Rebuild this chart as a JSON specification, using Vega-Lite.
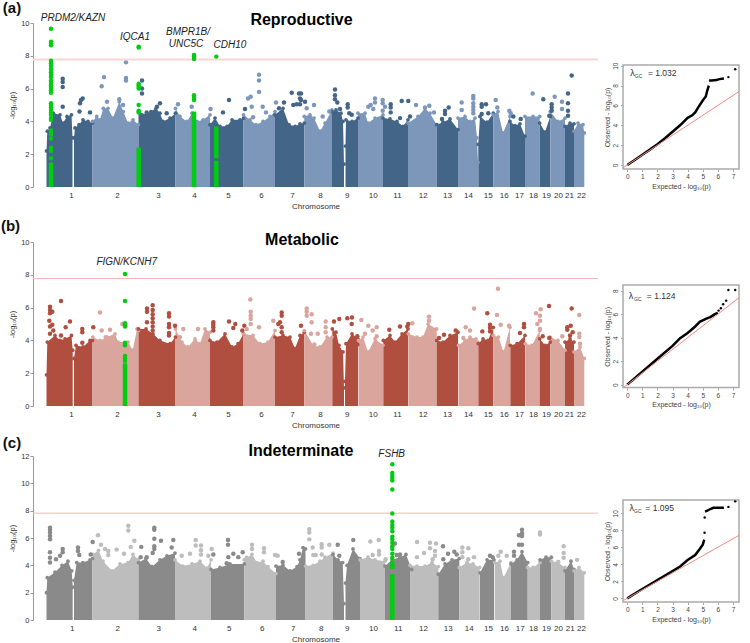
{
"$schema":"https://vega.github.io/schema/vega-lite/v6.json",
"padding":{"left":0,"top":0,"right":0,"bottom":0},
"config":{"font":"Liberation Sans","view":{"stroke":null},"axis":{"grid":false}},
"datasets":{
"a_sky":[
{"seg":"1","pos":46.5,"val":2.2},{"seg":"1","pos":47.3,"val":3.4},{"seg":"1","pos":50,"val":3.6},{"seg":"1","pos":53.3,"val":4.5},{"seg":"1","pos":60,"val":4.4},{"seg":"1","pos":63,"val":3.9},{"seg":"1","pos":67,"val":4.3},{"seg":"1","pos":71.5,"val":4.4},{"seg":"1","pos":72.5,"val":3.0},
{"seg":"1q","pos":74,"val":3.0},{"seg":"1q","pos":75,"val":3.6},{"seg":"1q","pos":79,"val":3.8},{"seg":"1q","pos":83,"val":4.1},{"seg":"1q","pos":88,"val":4},{"seg":"1q","pos":92.5,"val":3.9},
{"seg":"2","pos":92.5,"val":4},{"seg":"2","pos":96.7,"val":4.3},{"seg":"2","pos":100,"val":4.1},{"seg":"2","pos":103.3,"val":4.8},{"seg":"2","pos":108,"val":4.8},{"seg":"2","pos":113,"val":4.2},{"seg":"2","pos":119.3,"val":5.2},{"seg":"2","pos":123.3,"val":4.6},{"seg":"2","pos":128,"val":3.9},{"seg":"2","pos":133,"val":4.1},{"seg":"2","pos":138.5,"val":3.8},
{"seg":"3","pos":138.5,"val":4.6},{"seg":"3","pos":146,"val":4.4},{"seg":"3","pos":151,"val":4.6},{"seg":"3","pos":156,"val":4.8},{"seg":"3","pos":160,"val":4.5},{"seg":"3","pos":163,"val":4},{"seg":"3","pos":170,"val":4.2},{"seg":"3","pos":175.5,"val":4.5},
{"seg":"4","pos":175.5,"val":4.8},{"seg":"4","pos":180,"val":4.3},{"seg":"4","pos":187,"val":4},{"seg":"4","pos":192,"val":4.5},{"seg":"4","pos":197,"val":4},{"seg":"4","pos":203,"val":4.1},{"seg":"4","pos":210,"val":4.4},
{"seg":"5","pos":210,"val":3.8},{"seg":"5","pos":215,"val":4.2},{"seg":"5","pos":220,"val":3.7},{"seg":"5","pos":227,"val":3.7},{"seg":"5","pos":232,"val":4.1},{"seg":"5","pos":240,"val":4.1},{"seg":"5","pos":243.5,"val":4.2},
{"seg":"6","pos":243.5,"val":4.4},{"seg":"6","pos":250,"val":4.1},{"seg":"6","pos":256,"val":3.8},{"seg":"6","pos":263,"val":4},{"seg":"6","pos":270,"val":4.3},{"seg":"6","pos":275,"val":4.6},
{"seg":"7","pos":275,"val":4.4},{"seg":"7","pos":283,"val":4.8},{"seg":"7","pos":289,"val":3.8},{"seg":"7","pos":295,"val":3.7},{"seg":"7","pos":300,"val":3.85},{"seg":"7","pos":304.3,"val":3.9},
{"seg":"8","pos":304.3,"val":4.3},{"seg":"8","pos":310,"val":4.4},{"seg":"8","pos":314,"val":4.2},{"seg":"8","pos":320,"val":3.4},{"seg":"8","pos":325,"val":3.9},{"seg":"8","pos":332,"val":4.7},
{"seg":"9","pos":332,"val":4.6},{"seg":"9","pos":336,"val":4.7},{"seg":"9","pos":341,"val":4.5},{"seg":"9","pos":343,"val":4},{"seg":"9","pos":344,"val":1.4},
{"seg":"9q","pos":345.5,"val":2.5},{"seg":"9q","pos":346,"val":4.1},{"seg":"9q","pos":352,"val":4},{"seg":"9q","pos":358,"val":4.2},
{"seg":"10","pos":358,"val":4.5},{"seg":"10","pos":365,"val":4.5},{"seg":"10","pos":368,"val":3.9},{"seg":"10","pos":375,"val":4.2},{"seg":"10","pos":383,"val":4.4},
{"seg":"11","pos":383,"val":4.2},{"seg":"11","pos":390,"val":4.15},{"seg":"11","pos":397,"val":4},{"seg":"11","pos":403,"val":3.7},{"seg":"11","pos":408,"val":4.1},
{"seg":"12","pos":408,"val":3.9},{"seg":"12","pos":418,"val":4.3},{"seg":"12","pos":425,"val":4.8},{"seg":"12","pos":430,"val":4.5},{"seg":"12","pos":436.7,"val":3.8},
{"seg":"13","pos":436.7,"val":3.8},{"seg":"13","pos":443,"val":3.95},{"seg":"13","pos":450,"val":4.15},{"seg":"13","pos":458,"val":3.5},
{"seg":"14","pos":458,"val":4.2},{"seg":"14","pos":465,"val":4.3},{"seg":"14","pos":470,"val":4},{"seg":"14","pos":475,"val":4.2},{"seg":"14","pos":477,"val":3},{"seg":"14","pos":478,"val":1.5},
{"seg":"15","pos":478.3,"val":2.6},{"seg":"15","pos":480,"val":4.3},{"seg":"15","pos":487,"val":3.95},{"seg":"15","pos":493.3,"val":4.5},
{"seg":"16","pos":493.3,"val":4.4},{"seg":"16","pos":498,"val":4.6},{"seg":"16","pos":503,"val":3.3},{"seg":"16","pos":510,"val":4.3},
{"seg":"17","pos":510,"val":4},{"seg":"17","pos":515,"val":3.75},{"seg":"17","pos":520,"val":3.85},{"seg":"17","pos":525,"val":3.1},
{"seg":"18","pos":525,"val":4.3},{"seg":"18","pos":533,"val":4.3},{"seg":"18","pos":539.7,"val":4.3},
{"seg":"19","pos":539.7,"val":3.9},{"seg":"19","pos":545,"val":3.35},{"seg":"19","pos":550.3,"val":4.3},
{"seg":"20","pos":550.3,"val":4.6},{"seg":"20","pos":558,"val":4},{"seg":"20","pos":565,"val":4.2},
{"seg":"21","pos":565,"val":3.7},{"seg":"21","pos":570,"val":3.9},{"seg":"21","pos":574,"val":3.85},
{"seg":"22","pos":574,"val":3.4},{"seg":"22","pos":578,"val":3.9},{"seg":"22","pos":583,"val":3.8},{"seg":"22","pos":584.3,"val":3.3}
],
"a_dots":[
{"seg":"1","pos":62.7,"val":6.6},{"seg":"1","pos":62.7,"val":6.4},{"seg":"1","pos":62.7,"val":6.1},{"seg":"1","pos":62.7,"val":4.9},
{"seg":"1q","pos":80,"val":5.1},{"seg":"1q","pos":81,"val":5.3},{"seg":"1q","pos":82.7,"val":5.4},{"seg":"1q","pos":79.5,"val":4.6},{"seg":"1q","pos":90,"val":4.55},
{"seg":"2","pos":101.7,"val":6.15},{"seg":"2","pos":104,"val":6.7},{"seg":"2","pos":107,"val":5.2},{"seg":"2","pos":126,"val":7.6},{"seg":"2","pos":126,"val":6.65},{"seg":"2","pos":126,"val":6.5},{"seg":"2","pos":119.3,"val":5.35},{"seg":"2","pos":123,"val":5},
{"seg":"3","pos":142,"val":6.5},{"seg":"3","pos":142,"val":6},{"seg":"3","pos":142,"val":5.7},{"seg":"3","pos":160,"val":5.1},{"seg":"3","pos":157,"val":4.9},{"seg":"3","pos":166.7,"val":4.5},{"seg":"3","pos":146.7,"val":4.55},{"seg":"3","pos":151.7,"val":4.55},
{"seg":"4","pos":178,"val":5.05},{"seg":"4","pos":191.7,"val":4.9},{"seg":"4","pos":210.5,"val":4.75},
{"seg":"5","pos":223,"val":4.55},{"seg":"5","pos":229,"val":5.3},{"seg":"5","pos":245,"val":4.75},
{"seg":"6","pos":248,"val":5.4},{"seg":"6","pos":250.7,"val":5.5},{"seg":"6","pos":251.7,"val":4.9},{"seg":"6","pos":253,"val":4.25},{"seg":"6","pos":259,"val":6.85},{"seg":"6","pos":259,"val":6.5},{"seg":"6","pos":259,"val":5.8},{"seg":"6","pos":262.7,"val":4.9},{"seg":"6","pos":266,"val":4.55},{"seg":"6","pos":276,"val":5.15},
{"seg":"7","pos":279,"val":4.8},{"seg":"7","pos":284,"val":5.15},{"seg":"7","pos":291.7,"val":5.75},{"seg":"7","pos":293.3,"val":5},{"seg":"7","pos":296.7,"val":5.05},{"seg":"7","pos":299,"val":5.7},{"seg":"7","pos":300,"val":5.4},{"seg":"7","pos":300,"val":5.05},{"seg":"7","pos":301,"val":5.7},{"seg":"7","pos":301,"val":5.3},{"seg":"7","pos":305,"val":5.2},
{"seg":"8","pos":306.7,"val":4.8},{"seg":"8","pos":314,"val":5},{"seg":"8","pos":322.7,"val":4.3},{"seg":"8","pos":329.3,"val":4.6},
{"seg":"9","pos":335,"val":5.95},{"seg":"9","pos":335,"val":5.6},{"seg":"9","pos":335,"val":5.35},{"seg":"9","pos":337.3,"val":5.15},{"seg":"9","pos":340,"val":4.75},
{"seg":"9q","pos":347.7,"val":5.05},{"seg":"9q","pos":347.7,"val":4.85},{"seg":"9q","pos":349.3,"val":4.5},{"seg":"9q","pos":351.7,"val":4.4},
{"seg":"10","pos":368.3,"val":4.9},{"seg":"10","pos":370.7,"val":5},{"seg":"10","pos":375,"val":5.4},{"seg":"10","pos":375,"val":5.15},{"seg":"10","pos":373.3,"val":4.75},{"seg":"10","pos":382.7,"val":5.3},{"seg":"10","pos":382.7,"val":5.1},{"seg":"10","pos":385,"val":4.9},{"seg":"10","pos":382.7,"val":4.65},
{"seg":"11","pos":390.7,"val":5.05},{"seg":"11","pos":390.7,"val":4.85},{"seg":"11","pos":390.7,"val":4.55},{"seg":"11","pos":401.7,"val":5.25},{"seg":"11","pos":408.3,"val":5.25},{"seg":"11","pos":410,"val":4.3},{"seg":"11","pos":400,"val":4.2},
{"seg":"12","pos":416,"val":5},{"seg":"12","pos":429.3,"val":4.95},{"seg":"12","pos":434,"val":4.55},{"seg":"12","pos":425,"val":4.85},
{"seg":"13","pos":442,"val":4.15},{"seg":"13","pos":445,"val":4.65},{"seg":"13","pos":445,"val":4.45},{"seg":"13","pos":448.7,"val":4.85},
{"seg":"14","pos":461.7,"val":5.15},{"seg":"14","pos":461.7,"val":4.7},{"seg":"14","pos":473.3,"val":5.55},{"seg":"14","pos":473.3,"val":5.4},{"seg":"14","pos":473.3,"val":5.1},{"seg":"14","pos":473.3,"val":4.9},{"seg":"14","pos":473.3,"val":4.7},{"seg":"14","pos":473.3,"val":4.5},
{"seg":"15","pos":481.7,"val":5.05},{"seg":"15","pos":481.7,"val":4.9},{"seg":"15","pos":486,"val":5.05},{"seg":"15","pos":488.3,"val":4.5},{"seg":"15","pos":481.7,"val":4.45},
{"seg":"16","pos":495.7,"val":5.3},{"seg":"16","pos":497.3,"val":4.85},{"seg":"16","pos":509.3,"val":4.65},{"seg":"16","pos":510.7,"val":4.5},
{"seg":"17","pos":513.3,"val":4.3},{"seg":"17","pos":520.7,"val":4.15},
{"seg":"18","pos":532.7,"val":5.7},
{"seg":"19","pos":543.3,"val":5.35},{"seg":"19","pos":551.7,"val":5.05},{"seg":"19","pos":551.7,"val":4.85},{"seg":"19","pos":551.7,"val":4.65},{"seg":"19","pos":549.3,"val":4.35},
{"seg":"20","pos":554.7,"val":5.5},{"seg":"20","pos":562,"val":5.2},{"seg":"20","pos":562,"val":4.75},
{"seg":"21","pos":571.7,"val":6.8},{"seg":"21","pos":568,"val":5.7},{"seg":"21","pos":568,"val":5.1},{"seg":"21","pos":568,"val":4.65},{"seg":"21","pos":568,"val":4.35}
],
"a_span":[{"pos":51,"val":0,"val_end":1.5},{"pos":138.7,"val":0,"val_end":2.4},{"pos":194,"val":0,"val_end":4.6},{"pos":216.3,"val":0,"val_end":1.6},{"pos":216.3,"val":1.75,"val_end":3.7}],
"a_green":[
{"pos":51,"val":9.65},{"pos":51,"val":8.85},{"pos":51,"val":8.75},{"pos":51,"val":8.65},{"pos":51,"val":7.7},{"pos":51,"val":7.55},{"pos":51,"val":7.4},{"pos":51,"val":7.2},{"pos":51,"val":7},{"pos":51,"val":6.85},{"pos":51,"val":6.7},{"pos":51,"val":6.5},{"pos":51,"val":6.35},{"pos":51,"val":6.2},{"pos":51,"val":6.05},{"pos":51,"val":5.9},{"pos":51,"val":5.75},{"pos":51,"val":5.1},{"pos":51,"val":5},{"pos":51,"val":4.85},{"pos":51,"val":4.7},{"pos":51,"val":4.55},{"pos":51,"val":4.4},{"pos":51,"val":4.2},{"pos":51,"val":4.1},{"pos":51,"val":3.45},{"pos":51,"val":3.35},{"pos":51,"val":3.2},{"pos":51,"val":2.95},{"pos":51,"val":2.4},{"pos":51,"val":2.2},{"pos":51,"val":1.75},
{"pos":138.7,"val":8.55},{"pos":138.7,"val":8.5},{"pos":138.7,"val":6.3},{"pos":138.7,"val":6.2},{"pos":138.7,"val":6.1},{"pos":138.7,"val":6},{"pos":138.7,"val":5},{"pos":138.7,"val":4.65},{"pos":138.7,"val":4.55},
{"pos":194,"val":8.05},{"pos":194,"val":7.95},{"pos":194,"val":7.8},{"pos":194,"val":5.6},{"pos":194,"val":5.45},{"pos":194,"val":5.3},
{"pos":216.3,"val":7.95}
],
"b_sky":[
{"seg":"1","pos":46.5,"val":1.9},{"seg":"1","pos":47.3,"val":3.9},{"seg":"1","pos":55,"val":4.3},{"seg":"1","pos":60,"val":4},{"seg":"1","pos":65,"val":4.1},{"seg":"1","pos":71.5,"val":4.3},{"seg":"1","pos":72.7,"val":3.4},
{"seg":"1q","pos":74,"val":2.9},{"seg":"1q","pos":76,"val":3.7},{"seg":"1q","pos":83,"val":3.6},{"seg":"1q","pos":90,"val":4},{"seg":"1q","pos":92.5,"val":4},
{"seg":"2","pos":92.8,"val":4.2},{"seg":"2","pos":100,"val":4},{"seg":"2","pos":107,"val":4.2},{"seg":"2","pos":115,"val":4.4},{"seg":"2","pos":118,"val":3.9},{"seg":"2","pos":128,"val":3.9},{"seg":"2","pos":132.7,"val":3.4},{"seg":"2","pos":137,"val":4.7},{"seg":"2","pos":138.5,"val":4.6},
{"seg":"3","pos":138.5,"val":4.7},{"seg":"3","pos":146,"val":4.7},{"seg":"3","pos":153,"val":4.4},{"seg":"3","pos":160,"val":4},{"seg":"3","pos":170,"val":3.8},{"seg":"3","pos":175.5,"val":4.2},
{"seg":"4","pos":175.5,"val":4.7},{"seg":"4","pos":182,"val":3.9},{"seg":"4","pos":188,"val":3.6},{"seg":"4","pos":195,"val":4.1},{"seg":"4","pos":200,"val":3.8},{"seg":"4","pos":205,"val":4.7},{"seg":"4","pos":210,"val":4.5},
{"seg":"5","pos":210,"val":4},{"seg":"5","pos":217,"val":3.9},{"seg":"5","pos":225,"val":4.4},{"seg":"5","pos":232,"val":3.6},{"seg":"5","pos":238,"val":3.8},{"seg":"5","pos":243.5,"val":4.4},
{"seg":"6","pos":243.5,"val":4.4},{"seg":"6","pos":253,"val":4.3},{"seg":"6","pos":260,"val":3.8},{"seg":"6","pos":268,"val":3.9},{"seg":"6","pos":275,"val":4.6},
{"seg":"7","pos":275,"val":4.2},{"seg":"7","pos":283,"val":4.3},{"seg":"7","pos":290,"val":4.2},{"seg":"7","pos":295,"val":3.5},{"seg":"7","pos":300,"val":4.3},{"seg":"7","pos":304.3,"val":4.5},
{"seg":"8","pos":304.3,"val":4.6},{"seg":"8","pos":313,"val":3.7},{"seg":"8","pos":320,"val":3.6},{"seg":"8","pos":327,"val":4.2},{"seg":"8","pos":332,"val":4.2},
{"seg":"9","pos":332.3,"val":4.7},{"seg":"9","pos":336,"val":4.5},{"seg":"9","pos":339,"val":3.7},{"seg":"9","pos":343,"val":3.3},{"seg":"9","pos":344,"val":1.1},
{"seg":"9q","pos":345,"val":1.5},{"seg":"9q","pos":346,"val":3.8},{"seg":"9q","pos":352,"val":4.4},{"seg":"9q","pos":358,"val":4.1},
{"seg":"10","pos":358.5,"val":4},{"seg":"10","pos":363,"val":4.2},{"seg":"10","pos":368,"val":3.3},{"seg":"10","pos":375,"val":4.1},{"seg":"10","pos":383,"val":3.7},
{"seg":"11","pos":383.3,"val":4},{"seg":"11","pos":390,"val":4.3},{"seg":"11","pos":395,"val":3.9},{"seg":"11","pos":402,"val":4.4},{"seg":"11","pos":408,"val":4.7},
{"seg":"12","pos":408.3,"val":4.4},{"seg":"12","pos":417,"val":4.2},{"seg":"12","pos":423,"val":4.2},{"seg":"12","pos":428,"val":5},{"seg":"12","pos":436.7,"val":4.7},
{"seg":"13","pos":436.7,"val":4},{"seg":"13","pos":443,"val":3.9},{"seg":"13","pos":450,"val":4.3},{"seg":"13","pos":458,"val":4.5},
{"seg":"14","pos":458.5,"val":3.7},{"seg":"14","pos":465,"val":4},{"seg":"14","pos":470,"val":4.2},{"seg":"14","pos":476,"val":4.1},{"seg":"14","pos":478,"val":3.9},
{"seg":"15","pos":478.3,"val":3.8},{"seg":"15","pos":483,"val":4.1},{"seg":"15","pos":488,"val":4},{"seg":"15","pos":493.3,"val":4.8},
{"seg":"16","pos":493.3,"val":4.3},{"seg":"16","pos":498.5,"val":4.2},{"seg":"16","pos":503.5,"val":3.3},{"seg":"16","pos":510,"val":4.8},
{"seg":"17","pos":510.3,"val":3.7},{"seg":"17","pos":517,"val":3.8},{"seg":"17","pos":525,"val":4.3},
{"seg":"18","pos":525.3,"val":3.8},{"seg":"18","pos":532,"val":3.7},{"seg":"18","pos":539.7,"val":4.6},
{"seg":"19","pos":539.7,"val":4.1},{"seg":"19","pos":545,"val":3.7},{"seg":"19","pos":550.3,"val":3.9},
{"seg":"20","pos":550.3,"val":4.2},{"seg":"20","pos":558,"val":4},{"seg":"20","pos":565,"val":3.4},
{"seg":"21","pos":565,"val":3.9},{"seg":"21","pos":570,"val":4.1},{"seg":"21","pos":574,"val":3.9},
{"seg":"22","pos":574,"val":3.3},{"seg":"22","pos":580,"val":3.6},{"seg":"22","pos":584.3,"val":2.9}
],
"b_dots":[
{"seg":"1","pos":50,"val":6.05},{"seg":"1","pos":50,"val":5.85},{"seg":"1","pos":50,"val":5.65},{"seg":"1","pos":52.3,"val":5.75},{"seg":"1","pos":49.3,"val":5.2},{"seg":"1","pos":52.3,"val":4.95},{"seg":"1","pos":50,"val":4.85},{"seg":"1","pos":53.3,"val":4.6},{"seg":"1","pos":50,"val":4.4},{"seg":"1","pos":61,"val":6.4},{"seg":"1","pos":65.7,"val":4.8},{"seg":"1","pos":70,"val":5.15},{"seg":"1","pos":61,"val":4.3},
{"seg":"1q","pos":82.3,"val":4.7},{"seg":"1q","pos":82.3,"val":4.5},{"seg":"1q","pos":82.3,"val":3.85},{"seg":"1q","pos":93.3,"val":4.8},
{"seg":"2","pos":100,"val":5.7},{"seg":"2","pos":101.7,"val":4.6},{"seg":"2","pos":110,"val":4.65},{"seg":"2","pos":122.3,"val":5},{"seg":"2","pos":105.7,"val":4.2},
{"seg":"3","pos":147,"val":5.95},{"seg":"3","pos":147,"val":5.75},{"seg":"3","pos":147,"val":5.1},{"seg":"3","pos":152.7,"val":6.15},{"seg":"3","pos":152.7,"val":5.85},{"seg":"3","pos":152.7,"val":5.6},{"seg":"3","pos":152.7,"val":5.35},{"seg":"3","pos":152.7,"val":5.1},{"seg":"3","pos":152.7,"val":4.85},{"seg":"3","pos":152.7,"val":4.6},{"seg":"3","pos":169,"val":5.65},{"seg":"3","pos":169,"val":5.45},{"seg":"3","pos":169,"val":5},{"seg":"3","pos":169,"val":4.8},{"seg":"3","pos":169,"val":4.45},{"seg":"3","pos":169,"val":4.3},{"seg":"3","pos":175,"val":4.9},
{"seg":"4","pos":183.3,"val":4.7},{"seg":"4","pos":198,"val":4.7},{"seg":"4","pos":180,"val":4.2},
{"seg":"5","pos":213.3,"val":5.1},{"seg":"5","pos":213.3,"val":4.95},{"seg":"5","pos":213.3,"val":4.8},{"seg":"5","pos":229,"val":5.15},{"seg":"5","pos":235.3,"val":5},{"seg":"5","pos":233.3,"val":4.75},{"seg":"5","pos":244.3,"val":4.9},{"seg":"5","pos":242.3,"val":4.6},{"seg":"5","pos":213.3,"val":4.6},
{"seg":"6","pos":250.3,"val":6.5},{"seg":"6","pos":250.7,"val":5.75},{"seg":"6","pos":250.7,"val":5.5},{"seg":"6","pos":250.7,"val":5.3},{"seg":"6","pos":250.7,"val":5},{"seg":"6","pos":246.7,"val":4.7},{"seg":"6","pos":259,"val":4.8},{"seg":"6","pos":273.3,"val":5.2},
{"seg":"7","pos":281.7,"val":5.7},{"seg":"7","pos":281.7,"val":5.5},{"seg":"7","pos":280,"val":5.1},{"seg":"7","pos":278.3,"val":5},{"seg":"7","pos":281.7,"val":4.8},{"seg":"7","pos":281.7,"val":4.5},{"seg":"7","pos":301,"val":4.9},
{"seg":"8","pos":306.7,"val":5.95},{"seg":"8","pos":306.7,"val":5.75},{"seg":"8","pos":306.7,"val":5.5},{"seg":"8","pos":311.7,"val":5.6},{"seg":"8","pos":311.7,"val":5.1},{"seg":"8","pos":311,"val":4.4},{"seg":"8","pos":317.7,"val":4.4},{"seg":"8","pos":314.3,"val":3.75},{"seg":"8","pos":325.7,"val":5.15},{"seg":"8","pos":325.7,"val":4.8},{"seg":"8","pos":325.7,"val":4.5},
{"seg":"9","pos":334,"val":5.15},{"seg":"9","pos":339.3,"val":5.3},
{"seg":"9q","pos":347.3,"val":5.35},{"seg":"9q","pos":352,"val":5.4},{"seg":"9q","pos":351.7,"val":5},{"seg":"9q","pos":357.3,"val":4.25},{"seg":"9q","pos":357.3,"val":3.75},
{"seg":"10","pos":361.3,"val":5.25},{"seg":"10","pos":368.3,"val":4.9},{"seg":"10","pos":376.7,"val":4.8},{"seg":"10","pos":372.7,"val":4.6},{"seg":"10","pos":365,"val":4.4},{"seg":"10","pos":376.7,"val":4.25},
{"seg":"11","pos":389.3,"val":4.65},{"seg":"11","pos":400,"val":4.85},{"seg":"11","pos":408.3,"val":5},{"seg":"11","pos":407.3,"val":4.85},
{"seg":"12","pos":412.3,"val":5.05},{"seg":"12","pos":429,"val":5.45},{"seg":"12","pos":429,"val":5.2},
{"seg":"13","pos":439,"val":4.15},{"seg":"13","pos":444,"val":4.35},{"seg":"13","pos":455.7,"val":4.6},
{"seg":"14","pos":474,"val":5.95},{"seg":"14","pos":465.7,"val":4.8},{"seg":"14","pos":470,"val":4.6},{"seg":"14","pos":463.3,"val":4.15},
{"seg":"15","pos":482.3,"val":4.55},{"seg":"15","pos":487.3,"val":5.65},{"seg":"15","pos":490,"val":4.95},{"seg":"15","pos":490,"val":4.75},{"seg":"15","pos":490,"val":4.55},
{"seg":"16","pos":498,"val":7.15},{"seg":"16","pos":497,"val":5.55},{"seg":"16","pos":500.7,"val":4.95},{"seg":"16","pos":509,"val":4.9},
{"seg":"17","pos":520,"val":4.45},{"seg":"17","pos":524,"val":5},{"seg":"17","pos":524,"val":4.8},
{"seg":"18","pos":540.7,"val":5.9},{"seg":"18","pos":536,"val":5.65},{"seg":"18","pos":540,"val":5.5},{"seg":"18","pos":540,"val":5.2},{"seg":"18","pos":537.3,"val":5},{"seg":"18","pos":540,"val":4.7},
{"seg":"19","pos":549,"val":6.1},{"seg":"19","pos":542.7,"val":4.25},{"seg":"19","pos":549.3,"val":4.15},
{"seg":"20","pos":562.3,"val":4.25},
{"seg":"21","pos":571.7,"val":5.95},{"seg":"21","pos":567.3,"val":4.8},{"seg":"21","pos":570.7,"val":4.9},{"seg":"21","pos":567.3,"val":4.65},{"seg":"21","pos":572.7,"val":4.5},{"seg":"21","pos":570,"val":4.3},
{"seg":"22","pos":579.3,"val":5.55},{"seg":"22","pos":579.3,"val":4.4},{"seg":"22","pos":579.3,"val":4.2},{"seg":"22","pos":580,"val":3.8}
],
"b_span":[{"pos":125,"val":0,"val_end":2.6}],
"b_green":[{"pos":125,"val":8.05},{"pos":125,"val":6.4},{"pos":125,"val":5.05},{"pos":125,"val":4.95},{"pos":125,"val":4.85},{"pos":125,"val":3.85},{"pos":125,"val":3.7},{"pos":125,"val":3.05},{"pos":125,"val":2.9},{"pos":125,"val":2.75}],
"c_sky":[
{"seg":"1","pos":46.5,"val":2},{"seg":"1","pos":47.3,"val":3.1},{"seg":"1","pos":55,"val":3.5},{"seg":"1","pos":62,"val":4},{"seg":"1","pos":68,"val":4.3},{"seg":"1","pos":71.7,"val":3.6},{"seg":"1","pos":72.7,"val":2.4},
{"seg":"1q","pos":74,"val":2.9},{"seg":"1q","pos":76.7,"val":4.2},{"seg":"1q","pos":83,"val":4.2},{"seg":"1q","pos":90,"val":4.4},{"seg":"1q","pos":92.5,"val":4.5},
{"seg":"2","pos":92.8,"val":4.8},{"seg":"2","pos":98.5,"val":5.1},{"seg":"2","pos":103,"val":4.3},{"seg":"2","pos":112,"val":3.6},{"seg":"2","pos":120,"val":4.1},{"seg":"2","pos":128,"val":4.2},{"seg":"2","pos":133,"val":4.8},{"seg":"2","pos":138.5,"val":4.4},
{"seg":"3","pos":138.5,"val":4.2},{"seg":"3","pos":146,"val":4.5},{"seg":"3","pos":152,"val":3.9},{"seg":"3","pos":160,"val":4.4},{"seg":"3","pos":167,"val":4.7},{"seg":"3","pos":175,"val":4.9},
{"seg":"4","pos":175,"val":4.4},{"seg":"4","pos":183,"val":3.95},{"seg":"4","pos":192,"val":4.1},{"seg":"4","pos":200,"val":4.3},{"seg":"4","pos":207,"val":3.8},{"seg":"4","pos":211,"val":4.4},
{"seg":"5","pos":211,"val":3.7},{"seg":"5","pos":220,"val":3.85},{"seg":"5","pos":230,"val":4.1},{"seg":"5","pos":244.3,"val":4.1},
{"seg":"6","pos":244.3,"val":4.4},{"seg":"6","pos":252,"val":4.8},{"seg":"6","pos":257,"val":4.2},{"seg":"6","pos":263,"val":4.3},{"seg":"6","pos":268,"val":3.9},{"seg":"6","pos":276,"val":3.4},
{"seg":"7","pos":276,"val":3.95},{"seg":"7","pos":283,"val":4},{"seg":"7","pos":290,"val":3.6},{"seg":"7","pos":297,"val":3.9},{"seg":"7","pos":300,"val":4.4},{"seg":"7","pos":303,"val":5.3},{"seg":"7","pos":305.5,"val":5.2},
{"seg":"8","pos":305.5,"val":3.95},{"seg":"8","pos":313,"val":4},{"seg":"8","pos":320,"val":4.3},{"seg":"8","pos":325,"val":4.6},{"seg":"8","pos":333,"val":4.9},
{"seg":"9","pos":333,"val":4.8},{"seg":"9","pos":338,"val":4.4},{"seg":"9","pos":342.7,"val":4.2},{"seg":"9","pos":344,"val":1.2},
{"seg":"9q","pos":345.5,"val":2.7},{"seg":"9q","pos":347,"val":4},{"seg":"9q","pos":353,"val":5.2},{"seg":"9q","pos":360,"val":4.5},
{"seg":"10","pos":360,"val":4.4},{"seg":"10","pos":368,"val":4.6},{"seg":"10","pos":375,"val":4.4},{"seg":"10","pos":385,"val":4.3},
{"seg":"11","pos":385,"val":3.95},{"seg":"11","pos":392,"val":4.4},{"seg":"11","pos":400,"val":4.6},{"seg":"11","pos":406,"val":4.8},{"seg":"11","pos":411.7,"val":3.7},
{"seg":"12","pos":410,"val":4},{"seg":"12","pos":417,"val":3.95},{"seg":"12","pos":425,"val":3.95},{"seg":"12","pos":432,"val":4.2},{"seg":"12","pos":438.3,"val":3.9},
{"seg":"13","pos":438.3,"val":3.35},{"seg":"13","pos":445,"val":4.1},{"seg":"13","pos":452,"val":4.4},{"seg":"13","pos":459.3,"val":4.5},
{"seg":"14","pos":459.3,"val":3.85},{"seg":"14","pos":467,"val":4.2},{"seg":"14","pos":473,"val":4.1},{"seg":"14","pos":479.7,"val":3.85},
{"seg":"15","pos":480,"val":3.45},{"seg":"15","pos":487,"val":4.4},{"seg":"15","pos":494,"val":4.4},
{"seg":"16","pos":494.7,"val":4.2},{"seg":"16","pos":500,"val":4.3},{"seg":"16","pos":503.5,"val":3.1},{"seg":"16","pos":511,"val":4.2},
{"seg":"17","pos":511,"val":4.1},{"seg":"17","pos":517,"val":4.4},{"seg":"17","pos":522,"val":5},{"seg":"17","pos":527.7,"val":4.2},
{"seg":"18","pos":527.7,"val":3.85},{"seg":"18","pos":533,"val":3.85},{"seg":"18","pos":540,"val":4.2},
{"seg":"19","pos":540,"val":4.4},{"seg":"19","pos":546,"val":4.6},{"seg":"19","pos":551.3,"val":4.6},
{"seg":"20","pos":551.3,"val":4.3},{"seg":"20","pos":558,"val":4.2},{"seg":"20","pos":565,"val":3.85},
{"seg":"21","pos":565,"val":3.6},{"seg":"21","pos":571,"val":4.3},{"seg":"21","pos":574,"val":3.7},
{"seg":"22","pos":574,"val":3.6},{"seg":"22","pos":579,"val":3.85},{"seg":"22","pos":584.3,"val":3.45}
],
"c_dots":[
{"seg":"1","pos":50,"val":6.75},{"seg":"1","pos":50,"val":6.6},{"seg":"1","pos":50,"val":6.4},{"seg":"1","pos":50,"val":6.15},{"seg":"1","pos":50,"val":5.9},{"seg":"1","pos":50,"val":4.95},{"seg":"1","pos":50,"val":4.55},{"seg":"1","pos":50,"val":4.2},{"seg":"1","pos":62.7,"val":5.2},{"seg":"1","pos":62.7,"val":4.95},{"seg":"1","pos":56,"val":4.45},{"seg":"1","pos":60,"val":4.7},
{"seg":"1q","pos":78,"val":5.3},{"seg":"1q","pos":78,"val":5.05},{"seg":"1q","pos":79.3,"val":4.75},{"seg":"1q","pos":92.7,"val":5.7},{"seg":"1q","pos":90.7,"val":4.8},
{"seg":"2","pos":98,"val":6.2},{"seg":"2","pos":101,"val":5.5},{"seg":"2","pos":105,"val":5.2},{"seg":"2","pos":108.3,"val":5.05},{"seg":"2","pos":108.3,"val":4.75},{"seg":"2","pos":116.7,"val":5.15},{"seg":"2","pos":128.3,"val":6.9},{"seg":"2","pos":128.3,"val":6.55},{"seg":"2","pos":130.7,"val":5.35},{"seg":"2","pos":134.3,"val":5.8},{"seg":"2","pos":124,"val":4.85},
{"seg":"3","pos":154.3,"val":6.75},{"seg":"3","pos":154.3,"val":6.6},{"seg":"3","pos":154.3,"val":5.95},{"seg":"3","pos":161,"val":5.8},{"seg":"3","pos":173.3,"val":5.85},{"seg":"3","pos":141.3,"val":5.35},{"seg":"3","pos":154.3,"val":5.4},{"seg":"3","pos":154.3,"val":5.2},{"seg":"3","pos":152.7,"val":4.9},{"seg":"3","pos":171.7,"val":5.3},{"seg":"3","pos":140.7,"val":4.6},{"seg":"3","pos":146.7,"val":4.6},
{"seg":"4","pos":195.7,"val":5.85},{"seg":"4","pos":195.7,"val":5.45},{"seg":"4","pos":201,"val":5.45},{"seg":"4","pos":201,"val":5.1},{"seg":"4","pos":201,"val":4.8},{"seg":"4","pos":181.7,"val":4.7},{"seg":"4","pos":190,"val":4.85},{"seg":"4","pos":211.7,"val":5.2},{"seg":"4","pos":208.3,"val":4.7},
{"seg":"5","pos":213.3,"val":4.8},{"seg":"5","pos":228,"val":5.85},{"seg":"5","pos":228,"val":5.5},{"seg":"5","pos":228.3,"val":4.6},{"seg":"5","pos":233.3,"val":4.85},{"seg":"5","pos":238.3,"val":4.6},{"seg":"5","pos":242.7,"val":4.95},{"seg":"5","pos":226.7,"val":4.15},
{"seg":"6","pos":252,"val":5.5},{"seg":"6","pos":252,"val":5.2},{"seg":"6","pos":264,"val":5.25},{"seg":"6","pos":264,"val":4.95},{"seg":"6","pos":246.7,"val":4.55},{"seg":"6","pos":275,"val":4.75},{"seg":"6","pos":277.7,"val":4.7},
{"seg":"7","pos":282.7,"val":4.25},{"seg":"7","pos":299,"val":4.85},
{"seg":"8","pos":309.3,"val":6.65},{"seg":"8","pos":309.3,"val":6.4},{"seg":"8","pos":309.3,"val":5.9},{"seg":"8","pos":312.7,"val":5.3},{"seg":"8","pos":313.3,"val":4.75},{"seg":"8","pos":315.7,"val":4.75},{"seg":"8","pos":321.7,"val":5.55},{"seg":"8","pos":321.7,"val":5.3},{"seg":"8","pos":329.3,"val":5.5},{"seg":"8","pos":321.7,"val":4.8},
{"seg":"9","pos":337.7,"val":5.5},{"seg":"9","pos":339.3,"val":4.7},
{"seg":"9q","pos":353.3,"val":5.85},
{"seg":"10","pos":370.3,"val":5.75},{"seg":"10","pos":378.7,"val":5.85},{"seg":"10","pos":379,"val":5.05},{"seg":"10","pos":379,"val":4.8},{"seg":"10","pos":372.7,"val":4.75},{"seg":"10","pos":385.7,"val":4.45},
{"seg":"11","pos":395,"val":5.6},{"seg":"11","pos":400,"val":4.8},{"seg":"11","pos":396.7,"val":4.75},
{"seg":"12","pos":417,"val":5.7},{"seg":"12","pos":417,"val":4.6},{"seg":"12","pos":424,"val":4.9},{"seg":"12","pos":430,"val":5.65},{"seg":"12","pos":430,"val":5.25},{"seg":"12","pos":436,"val":5.6},{"seg":"12","pos":435,"val":5.05},{"seg":"12","pos":435,"val":4.7},{"seg":"12","pos":432.7,"val":4.45},
{"seg":"13","pos":443,"val":5.4},{"seg":"13","pos":448,"val":4.85},{"seg":"13","pos":454.3,"val":5},{"seg":"13","pos":456.7,"val":4.8},{"seg":"13","pos":443.3,"val":4.45},
{"seg":"14","pos":462.3,"val":5.3},{"seg":"14","pos":462.3,"val":4.95},{"seg":"14","pos":462.3,"val":4.6},{"seg":"14","pos":468.3,"val":5.25},{"seg":"14","pos":474,"val":4.6},{"seg":"14","pos":468.3,"val":4.45},
{"seg":"15","pos":490,"val":4.7},{"seg":"15","pos":492.7,"val":4.6},
{"seg":"16","pos":500.7,"val":5},{"seg":"16","pos":498.3,"val":4.7},{"seg":"16","pos":506.7,"val":4.7},
{"seg":"17","pos":522,"val":6.6},{"seg":"17","pos":522,"val":6.35},{"seg":"17","pos":519,"val":6.2},{"seg":"17","pos":522,"val":6.15},{"seg":"17","pos":519,"val":5.5},{"seg":"17","pos":522,"val":5.5},{"seg":"17","pos":514,"val":5},{"seg":"17","pos":514,"val":4.7},
{"seg":"18","pos":540,"val":6.4},{"seg":"18","pos":540,"val":6.25},
{"seg":"20","pos":563.7,"val":5.4},{"seg":"20","pos":563.7,"val":4.9},{"seg":"20","pos":563.7,"val":4.55},{"seg":"20","pos":558.3,"val":4.25},
{"seg":"22","pos":577,"val":4.4}
],
"c_span":[{"pos":392.3,"val":0,"val_end":3.35},{"pos":392.3,"val":3.75,"val_end":4.1}],
"c_green":[{"pos":392.3,"val":11.4},{"pos":392.3,"val":10.75},{"pos":392.3,"val":10.55},{"pos":392.3,"val":10.4},{"pos":392.3,"val":10.2},{"pos":392.3,"val":9.55},{"pos":392.3,"val":7.8},{"pos":392.3,"val":7.2},{"pos":392.3,"val":6.95},{"pos":392.3,"val":6.75},{"pos":392.3,"val":6.5},{"pos":392.3,"val":6.1},{"pos":392.3,"val":5.9},{"pos":392.3,"val":5.65},{"pos":392.3,"val":5.4},{"pos":392.3,"val":5.2},{"pos":392.3,"val":4.85},{"pos":392.3,"val":4.55},{"pos":392.3,"val":4.2},{"pos":392.3,"val":3.95}],
"qa":[{"part":"l","exp":0,"obs":0},{"part":"l","exp":0.5,"obs":0.5},{"part":"l","exp":1,"obs":1.03},{"part":"l","exp":1.5,"obs":1.55},{"part":"l","exp":2,"obs":2.1},{"part":"l","exp":2.5,"obs":2.7},{"part":"l","exp":3,"obs":3.35},{"part":"l","exp":3.5,"obs":4},{"part":"l","exp":4,"obs":4.75},{"part":"l","exp":4.3,"obs":5},{"part":"l","exp":4.5,"obs":5.3},{"part":"l","exp":4.7,"obs":5.8},{"part":"l","exp":5,"obs":6.5},{"part":"l","exp":5.2,"obs":6.9},{"part":"l","exp":5.3,"obs":7.5},{"part":"l","exp":5.4,"obs":8},{"part":"u","exp":5.42,"obs":8.5},{"part":"u","exp":5.6,"obs":8.5},{"part":"u","exp":5.9,"obs":8.55},{"part":"u","exp":6.1,"obs":8.65},{"part":"u","exp":6.4,"obs":8.7},{"part":"t","exp":6.7,"obs":8.85},{"part":"t","exp":7.15,"obs":9.65}],
"qb":[{"part":"l","exp":0,"obs":0},{"part":"l","exp":1,"obs":1.1},{"part":"l","exp":2,"obs":2.2},{"part":"l","exp":3,"obs":3.3},{"part":"l","exp":3.5,"obs":3.95},{"part":"l","exp":4,"obs":4.4},{"part":"l","exp":4.5,"obs":4.95},{"part":"l","exp":4.8,"obs":5.35},{"part":"l","exp":5.2,"obs":5.6},{"part":"l","exp":5.5,"obs":5.75},{"part":"l","exp":5.8,"obs":6},{"part":"l","exp":6,"obs":6.1},{"part":"t","exp":6.05,"obs":6.3},{"part":"t","exp":6.2,"obs":6.5},{"part":"t","exp":6.35,"obs":6.85},{"part":"t","exp":6.55,"obs":7.15},{"part":"t","exp":6.7,"obs":8.05},{"part":"t","exp":7.15,"obs":8.05}],
"qc":[{"part":"l","exp":0,"obs":0},{"part":"l","exp":1,"obs":1.1},{"part":"l","exp":2,"obs":2.15},{"part":"l","exp":3,"obs":3.2},{"part":"l","exp":3.5,"obs":3.75},{"part":"l","exp":4,"obs":4.5},{"part":"l","exp":4.5,"obs":5.1},{"part":"l","exp":4.8,"obs":5.8},{"part":"l","exp":5,"obs":6.3},{"part":"l","exp":5.1,"obs":6.9},{"part":"t","exp":5.12,"obs":7.7},{"part":"t","exp":5.13,"obs":9.5},{"part":"u","exp":5.15,"obs":10.2},{"part":"u","exp":5.3,"obs":10.3},{"part":"u","exp":5.5,"obs":10.5},{"part":"u","exp":5.7,"obs":10.65},{"part":"u","exp":6,"obs":10.65},{"part":"u","exp":6.4,"obs":10.65},{"part":"t","exp":6.7,"obs":10.75},{"part":"t","exp":7.15,"obs":11.4}],
"diag":[{"exp":-0.28,"obs":-0.28},{"exp":7.4,"obs":7.4}]
},
"spacing":3,
"hconcat":[
{"resolve":{"scale":{"color":"independent"}},"vconcat":[
{"width":565,"height":22.5,"data":{"values":[{"t":""}]},"mark":{"type":"text","opacity":0},"encoding":{"text":{"field":"t"}}},
{"width":565,"height":164,"encoding":{
 "x":{"field":"pos","type":"quantitative","title":"Chromosome","scale":{"domain":[33,598],"nice":false,"zero":false},"axis":{"values":[71,117,158,194,228,261,292,320,346.7,372.7,397,422.7,447,468,487.7,503.7,519,533,546,558,569,581],"labelExpr":"indexof([71,117,158,194,228,261,292,320,346.7,372.7,397,422.7,447,468,487.7,503.7,519,533,546,558,569,581],datum.value)+1","domain":false,"ticks":false,"labelFontSize":8,"labelColor":"#333","labelPadding":4,"labelOverlap":false,"labelBound":false,"labelFlush":false,"titleFontSize":8,"titleFontWeight":"normal","titleColor":"#333","titlePadding":3}},
 "y":{"field":"val","type":"quantitative","stack":null,"title":"-log₁₀(p)","scale":{"domain":[0,10],"nice":false},"axis":{"values":[0,2,4,6,8,10],"domainColor":"#999","tickColor":"#999","tickSize":3,"labelFontSize":7.5,"labelColor":"#333","labelPadding":1,"titleFontSize":7.5,"titleFontWeight":"normal","titleColor":"#333","titlePadding":4}}},
 "layer":[
 {"data":{"name":"a_sky"},"mark":{"type":"area"},"encoding":{"color":{"field":"seg","type":"nominal","legend":null,"scale":{"domain":["1","1q","2","3","4","5","6","7","8","9","9q","10","11","12","13","14","15","16","17","18","19","20","21","22"],"range":["#436588","#436588","#7C97BA","#436588","#7C97BA","#436588","#7C97BA","#436588","#7C97BA","#436588","#436588","#7C97BA","#436588","#7C97BA","#436588","#7C97BA","#436588","#7C97BA","#436588","#7C97BA","#436588","#7C97BA","#436588","#7C97BA"]}}}},
 {"data":{"name":"a_sky"},"mark":{"type":"circle","size":14,"opacity":1},"encoding":{"color":{"field":"seg","type":"nominal","legend":null}}},
 {"data":{"name":"a_dots"},"mark":{"type":"circle","size":20,"opacity":1},"encoding":{"color":{"field":"seg","type":"nominal","legend":null}}},
 {"data":{"values":[{"pos":33,"pos_end":598,"val":7.77}]},"mark":{"type":"rule","color":"#FFD3D3","strokeWidth":2},"encoding":{"x2":{"field":"pos_end"}}},
 {"data":{"name":"a_span"},"mark":{"type":"rule","color":"#00CC11","strokeWidth":4.5},"encoding":{"y2":{"field":"val_end"}}},
 {"data":{"name":"a_green"},"mark":{"type":"circle","size":20,"opacity":1,"color":"#00CC11"}},
 {"data":{"values":[{"pos":73,"val":10.32,"label":"PRDM2/KAZN"},{"pos":135,"val":9.12,"label":"IQCA1"},{"pos":188,"val":9.47,"label":"BMPR1B/"},{"pos":186,"val":8.74,"label":"UNC5C"},{"pos":230,"val":8.64,"label":"CDH10"}]},"mark":{"type":"text","fontStyle":"italic","fontSize":10,"color":"#222"},"encoding":{"text":{"field":"label"}}},
 {"data":{"values":[{"pos":301.5,"val":10.2,"label":"Reproductive"}]},"mark":{"type":"text","fontWeight":"bold","fontSize":16,"color":"#000"},"encoding":{"text":{"field":"label"}}},
 {"data":{"values":[{"pos":12,"val":10.9,"label":"(a)"}]},"mark":{"type":"text","fontWeight":"bold","fontSize":15,"color":"#111"},"encoding":{"text":{"field":"label"}}}
 ]},
{"width":565,"height":55,"data":{"values":[{"t":""}]},"mark":{"type":"text","opacity":0},"encoding":{"text":{"field":"t"}}},
{"width":565,"height":164,"encoding":{
 "x":{"field":"pos","type":"quantitative","title":"Chromosome","scale":{"domain":[33,598],"nice":false,"zero":false},"axis":{"values":[71,117,158,194,228,261,292,320,346.7,372.7,397,422.7,447,468,487.7,503.7,519,533,546,558,569,581],"labelExpr":"indexof([71,117,158,194,228,261,292,320,346.7,372.7,397,422.7,447,468,487.7,503.7,519,533,546,558,569,581],datum.value)+1","domain":false,"ticks":false,"labelFontSize":8,"labelColor":"#333","labelPadding":4,"labelOverlap":false,"labelBound":false,"labelFlush":false,"titleFontSize":8,"titleFontWeight":"normal","titleColor":"#333","titlePadding":3}},
 "y":{"field":"val","type":"quantitative","stack":null,"title":"-log₁₀(p)","scale":{"domain":[0,10],"nice":false},"axis":{"values":[0,2,4,6,8,10],"domainColor":"#999","tickColor":"#999","tickSize":3,"labelFontSize":7.5,"labelColor":"#333","labelPadding":1,"titleFontSize":7.5,"titleFontWeight":"normal","titleColor":"#333","titlePadding":4}}},
 "layer":[
 {"data":{"name":"b_sky"},"mark":{"type":"area"},"encoding":{"color":{"field":"seg","type":"nominal","legend":null,"scale":{"domain":["1","1q","2","3","4","5","6","7","8","9","9q","10","11","12","13","14","15","16","17","18","19","20","21","22"],"range":["#B04E3F","#B04E3F","#D9A59D","#B04E3F","#D9A59D","#B04E3F","#D9A59D","#B04E3F","#D9A59D","#B04E3F","#B04E3F","#D9A59D","#B04E3F","#D9A59D","#B04E3F","#D9A59D","#B04E3F","#D9A59D","#B04E3F","#D9A59D","#B04E3F","#D9A59D","#B04E3F","#D9A59D"]}}}},
 {"data":{"name":"b_sky"},"mark":{"type":"circle","size":14,"opacity":1},"encoding":{"color":{"field":"seg","type":"nominal","legend":null}}},
 {"data":{"name":"b_dots"},"mark":{"type":"circle","size":20,"opacity":1},"encoding":{"color":{"field":"seg","type":"nominal","legend":null}}},
 {"data":{"values":[{"pos":33,"pos_end":598,"val":7.77}]},"mark":{"type":"rule","color":"#F4B8B0","strokeWidth":1},"encoding":{"x2":{"field":"pos_end"}}},
 {"data":{"name":"b_span"},"mark":{"type":"rule","color":"#00CC11","strokeWidth":4.5},"encoding":{"y2":{"field":"val_end"}}},
 {"data":{"name":"b_green"},"mark":{"type":"circle","size":20,"opacity":1,"color":"#00CC11"}},
 {"data":{"values":[{"pos":126.7,"val":8.78,"label":"FIGN/KCNH7"}]},"mark":{"type":"text","fontStyle":"italic","fontSize":10,"color":"#222"},"encoding":{"text":{"field":"label"}}},
 {"data":{"values":[{"pos":302,"val":10.1,"label":"Metabolic"}]},"mark":{"type":"text","fontWeight":"bold","fontSize":16,"color":"#000"},"encoding":{"text":{"field":"label"}}},
 {"data":{"values":[{"pos":10.5,"val":11,"label":"(b)"}]},"mark":{"type":"text","fontWeight":"bold","fontSize":15,"color":"#111"},"encoding":{"text":{"field":"label"}}}
 ]},
{"width":565,"height":49.5,"data":{"values":[{"t":""}]},"mark":{"type":"text","opacity":0},"encoding":{"text":{"field":"t"}}},
{"width":565,"height":164,"encoding":{
 "x":{"field":"pos","type":"quantitative","title":"Chromosome","scale":{"domain":[33,598],"nice":false,"zero":false},"axis":{"values":[71.7,117.3,158.3,194.3,228.7,261.7,292.7,320.7,346.7,373,397.7,423,447.7,468.7,488,504,519.7,533,546,558,569.7,581],"labelExpr":"indexof([71.7,117.3,158.3,194.3,228.7,261.7,292.7,320.7,346.7,373,397.7,423,447.7,468.7,488,504,519.7,533,546,558,569.7,581],datum.value)+1","domain":false,"ticks":false,"labelFontSize":8,"labelColor":"#333","labelPadding":4,"labelOverlap":false,"labelBound":false,"labelFlush":false,"titleFontSize":8,"titleFontWeight":"normal","titleColor":"#333","titlePadding":3}},
 "y":{"field":"val","type":"quantitative","stack":null,"title":"-log₁₀(p)","scale":{"domain":[0,12],"nice":false},"axis":{"values":[0,2,4,6,8,10,12],"domainColor":"#999","tickColor":"#999","tickSize":3,"labelFontSize":7.5,"labelColor":"#333","labelPadding":1,"titleFontSize":7.5,"titleFontWeight":"normal","titleColor":"#333","titlePadding":4}}},
 "layer":[
 {"data":{"name":"c_sky"},"mark":{"type":"area"},"encoding":{"color":{"field":"seg","type":"nominal","legend":null,"scale":{"domain":["1","1q","2","3","4","5","6","7","8","9","9q","10","11","12","13","14","15","16","17","18","19","20","21","22"],"range":["#8A8A8A","#8A8A8A","#BDBDBD","#8A8A8A","#BDBDBD","#8A8A8A","#BDBDBD","#8A8A8A","#BDBDBD","#8A8A8A","#8A8A8A","#BDBDBD","#8A8A8A","#BDBDBD","#8A8A8A","#BDBDBD","#8A8A8A","#BDBDBD","#8A8A8A","#BDBDBD","#8A8A8A","#BDBDBD","#8A8A8A","#BDBDBD"]}}}},
 {"data":{"name":"c_sky"},"mark":{"type":"circle","size":14,"opacity":1},"encoding":{"color":{"field":"seg","type":"nominal","legend":null}}},
 {"data":{"name":"c_dots"},"mark":{"type":"circle","size":20,"opacity":1},"encoding":{"color":{"field":"seg","type":"nominal","legend":null}}},
 {"data":{"values":[{"pos":33,"pos_end":598,"val":7.82}]},"mark":{"type":"rule","color":"#F8B8AC","strokeWidth":1},"encoding":{"x2":{"field":"pos_end"}}},
 {"data":{"name":"c_span"},"mark":{"type":"rule","color":"#00CC11","strokeWidth":4.5},"encoding":{"y2":{"field":"val_end"}}},
 {"data":{"name":"c_green"},"mark":{"type":"circle","size":20,"opacity":1,"color":"#00CC11"}},
 {"data":{"values":[{"pos":391.7,"val":12.17,"label":"FSHB"}]},"mark":{"type":"text","fontStyle":"italic","fontSize":10,"color":"#222"},"encoding":{"text":{"field":"label"}}},
 {"data":{"values":[{"pos":301,"val":12.39,"label":"Indeterminate"}]},"mark":{"type":"text","fontWeight":"bold","fontSize":16,"color":"#000"},"encoding":{"text":{"field":"label"}}},
 {"data":{"values":[{"pos":12,"val":12.98,"label":"(c)"}]},"mark":{"type":"text","fontWeight":"bold","fontSize":15,"color":"#111"},"encoding":{"text":{"field":"label"}}}
 ]}
],"spacing":0,"bounds":"flush"},
{"vconcat":[
{"width":116,"height":65,"data":{"values":[{"t":""}]},"mark":{"type":"text","opacity":0},"encoding":{"text":{"field":"t"}}},
{"width":116,"height":104,"view":{"stroke":"#AAA","strokeWidth":1.5},"encoding":{
 "x":{"field":"exp","type":"quantitative","title":"Expected - log₁₀(p)","scale":{"domain":[-0.28,7.4],"nice":false,"zero":false},"axis":{"values":[0,1,2,3,4,5,6,7],"format":"d","domain":false,"tickColor":"#AAA","tickSize":2.5,"labelFontSize":6.5,"labelColor":"#444","labelPadding":2,"labelFlush":false,"titleFontSize":7,"titleFontWeight":"normal","titleColor":"#444","titlePadding":2}},
 "y":{"field":"obs","type":"quantitative","title":"Observed - log₁₀(p)","scale":{"domain":[-0.4,10.07],"nice":false,"zero":false},"axis":{"values":[0,2,4,6,8,10],"format":"d","domain":false,"tickColor":"#AAA","tickSize":2.5,"labelFontSize":6.5,"labelColor":"#444","labelAngle":-90,"labelAlign":"center","labelBaseline":"bottom","labelPadding":2,"labelFlush":false,"titleFontSize":7,"titleFontWeight":"normal","titleColor":"#444","titlePadding":2}}},
 "layer":[
 {"data":{"name":"qa"},"transform":[{"filter":"datum.part!='t'"}],"mark":{"type":"line","color":"#000","strokeWidth":2.5},"encoding":{"detail":{"field":"part"}}},
 {"data":{"name":"qa"},"transform":[{"filter":"datum.part=='t'"}],"mark":{"type":"circle","size":6,"color":"#000","opacity":1}},
 {"data":{"name":"diag"},"mark":{"type":"line","color":"#F28B82","strokeWidth":1}},
 {"data":{"values":[{"exp":0.2,"obs":9.3,"t":"λ"}]},"mark":{"type":"text","fontSize":9,"align":"left","color":"#333"},"encoding":{"text":{"field":"t"}}},
 {"data":{"values":[{"exp":0.5,"obs":9.0,"t":"GC"}]},"mark":{"type":"text","fontSize":5,"align":"left","color":"#333"},"encoding":{"text":{"field":"t"}}},
 {"data":{"values":[{"exp":1.37,"obs":9.25,"t":"= 1.032"}]},"mark":{"type":"text","fontSize":8.5,"align":"left","color":"#333"},"encoding":{"text":{"field":"t"}}}
 ]},
{"width":116,"height":115.7,"data":{"values":[{"t":""}]},"mark":{"type":"text","opacity":0},"encoding":{"text":{"field":"t"}}},
{"width":116,"height":102.6,"view":{"stroke":"#AAA","strokeWidth":1.5},"encoding":{
 "x":{"field":"exp","type":"quantitative","title":"Expected - log₁₀(p)","scale":{"domain":[-0.28,7.4],"nice":false,"zero":false},"axis":{"values":[0,1,2,3,4,5,6,7],"format":"d","domain":false,"tickColor":"#AAA","tickSize":2.5,"labelFontSize":6.5,"labelColor":"#444","labelPadding":2,"labelFlush":false,"titleFontSize":7,"titleFontWeight":"normal","titleColor":"#444","titlePadding":2}},
 "y":{"field":"obs","type":"quantitative","title":"Observed - log₁₀(p)","scale":{"domain":[-0.25,8.48],"nice":false,"zero":false},"axis":{"values":[0,2,4,6,8],"format":"d","domain":false,"tickColor":"#AAA","tickSize":2.5,"labelFontSize":6.5,"labelColor":"#444","labelAngle":-90,"labelAlign":"center","labelBaseline":"bottom","labelPadding":2,"labelFlush":false,"titleFontSize":7,"titleFontWeight":"normal","titleColor":"#444","titlePadding":2}}},
 "layer":[
 {"data":{"name":"qb"},"transform":[{"filter":"datum.part!='t'"}],"mark":{"type":"line","color":"#000","strokeWidth":2.5},"encoding":{"detail":{"field":"part"}}},
 {"data":{"name":"qb"},"transform":[{"filter":"datum.part=='t'"}],"mark":{"type":"circle","size":6,"color":"#000","opacity":1}},
 {"data":{"name":"diag"},"mark":{"type":"line","color":"#F28B82","strokeWidth":1}},
 {"data":{"values":[{"exp":0.1,"obs":7.57,"t":"λ"}]},"mark":{"type":"text","fontSize":9,"align":"left","color":"#333"},"encoding":{"text":{"field":"t"}}},
 {"data":{"values":[{"exp":0.45,"obs":7.33,"t":"GC"}]},"mark":{"type":"text","fontSize":5,"align":"left","color":"#333"},"encoding":{"text":{"field":"t"}}},
 {"data":{"values":[{"exp":1.3,"obs":7.57,"t":"= 1.124"}]},"mark":{"type":"text","fontSize":8.5,"align":"left","color":"#333"},"encoding":{"text":{"field":"t"}}}
 ]},
{"width":116,"height":111.7,"data":{"values":[{"t":""}]},"mark":{"type":"text","opacity":0},"encoding":{"text":{"field":"t"}}},
{"width":116,"height":102,"view":{"stroke":"#AAA","strokeWidth":1.5},"encoding":{
 "x":{"field":"exp","type":"quantitative","title":"Expected - log₁₀(p)","scale":{"domain":[-0.28,7.4],"nice":false,"zero":false},"axis":{"values":[0,1,2,3,4,5,6,7],"format":"d","domain":false,"tickColor":"#AAA","tickSize":2.5,"labelFontSize":6.5,"labelColor":"#444","labelPadding":2,"labelFlush":false,"titleFontSize":7,"titleFontWeight":"normal","titleColor":"#444","titlePadding":2}},
 "y":{"field":"obs","type":"quantitative","title":"Observed - log₁₀(p)","scale":{"domain":[-0.43,11.56],"nice":false,"zero":false},"axis":{"values":[0,2,4,6,8,10],"format":"d","domain":false,"tickColor":"#AAA","tickSize":2.5,"labelFontSize":6.5,"labelColor":"#444","labelAngle":-90,"labelAlign":"center","labelBaseline":"bottom","labelPadding":2,"labelFlush":false,"titleFontSize":7,"titleFontWeight":"normal","titleColor":"#444","titlePadding":2}}},
 "layer":[
 {"data":{"name":"qc"},"transform":[{"filter":"datum.part!='t'"}],"mark":{"type":"line","color":"#000","strokeWidth":2.5},"encoding":{"detail":{"field":"part"}}},
 {"data":{"name":"qc"},"transform":[{"filter":"datum.part=='t'"}],"mark":{"type":"circle","size":6,"color":"#000","opacity":1}},
 {"data":{"name":"diag"},"mark":{"type":"line","color":"#F28B82","strokeWidth":1}},
 {"data":{"values":[{"exp":0.15,"obs":10.6,"t":"λ"}]},"mark":{"type":"text","fontSize":9,"align":"left","color":"#333"},"encoding":{"text":{"field":"t"}}},
 {"data":{"values":[{"exp":0.45,"obs":10.25,"t":"GC"}]},"mark":{"type":"text","fontSize":5,"align":"left","color":"#333"},"encoding":{"text":{"field":"t"}}},
 {"data":{"values":[{"exp":1.2,"obs":10.6,"t":"= 1.095"}]},"mark":{"type":"text","fontSize":8.5,"align":"left","color":"#333"},"encoding":{"text":{"field":"t"}}}
 ]}
],"spacing":0,"bounds":"flush"}
]
}
